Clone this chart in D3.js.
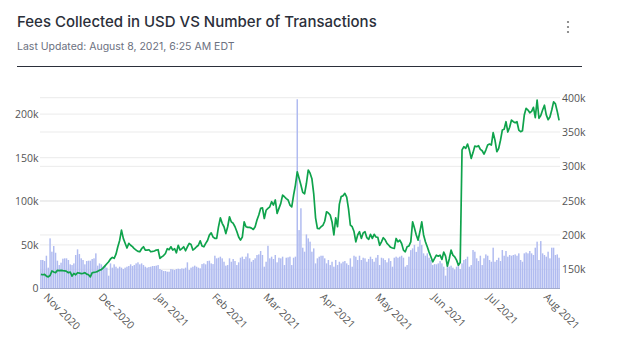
<!DOCTYPE html>
<html><head><meta charset="utf-8">
<script src="https://cdn.jsdelivr.net/npm/d3@7"></script>
<style>
html,body{margin:0;padding:0;background:#fff;}
svg{display:block;}
</style></head><body>
<svg id="chart" width="644" height="357"></svg>
<script>
// ---- data ----
const firstDay = "2020-10-29";
const lastDay = "2021-08-08";
// Fees collected in USD (thousands), one per day — bars, left axis
const feesK = [
32.7,32.7,31.5,37.6,23.9,57.5,42.2,48.7,41,31.9,
26.9,29.6,34.2,34.6,34.6,32.7,27.7,26.9,28.8,38.4,
44.9,39.5,34.6,32.7,27.7,31.5,31.9,31.9,33.8,34.6,
40.3,26.2,28.8,27.7,25,26.9,23.9,14.7,28.8,23.9,
27.7,25,23.1,25,23.9,22.3,23.9,25,25.8,27.7,
25.8,26.9,28.8,30,27.7,28.8,26.9,25,23.9,24.6,
25,25.8,25.8,26.2,26.9,22.3,21.2,20,20,19.3,
19.3,22.3,21.9,21.2,22.3,22.7,22.3,23.1,22.7,23.9,
30,21.2,23.9,25,26.2,25,23.9,23.1,28,28.8,
27.7,31.5,31.9,28.8,28,37.6,34.6,35.3,36.5,34.6,
30.7,26.2,26.9,34.6,30.7,33.8,31.5,26.9,30,35.3,
36.5,33.8,36.5,40.3,34.6,30.7,32.7,34.6,38.4,39.1,
43,38.4,25,30.7,49,34.6,36.5,33.8,38.4,30,
35.3,34.6,36.5,26.9,35.3,35.7,36.5,26.9,35.3,36.5,
217,67,92,46.8,42.2,62,57.5,53.7,42.2,46,
28.8,34.6,36.5,37.6,37.6,34.6,28.8,32.7,26.9,30.7,
25,32.7,26.9,30.7,28.8,30.7,31.5,28.8,26.9,34.6,
25,37.6,36.5,32.7,37.6,32.7,35.3,34.6,30.7,33.8,
36.5,33.8,30.7,35.3,38.4,26.9,35.3,34.6,32.7,30,
34.6,31.5,25,35.3,36.5,35.3,36.5,37.6,35.3,25,
26.9,36.5,44,46,50,42,48,56,50,40.3,
37.6,40.3,35.3,32.7,26.9,28,27.7,28.8,31.5,28.8,
25,14.7,26.9,25,26.2,23.9,21.9,25,26.9,22.3,
28.8,32.7,33.8,36.5,25,26.9,44.1,42.2,34.6,31.5,
37.6,26.9,34.6,39.1,37.6,32.7,30.7,46.8,30.7,32.7,
35.3,31.5,44.1,37.6,43,36.5,38.4,37.6,38.4,39.1,
37.6,40.3,32.7,30.7,40.3,41.4,40.3,43,40.3,38.4,
46.8,53.7,32.7,54.4,40.3,38.4,36.5,42.2,34.6,46.8,
46.8,38.4,39.1,35.3
];
// Number of transactions (thousands), one per day — line, right axis
const txK = [
142.5,142,142.5,140,139,141,147.5,146,145,148.5,
148,148.5,148,147.8,147,145,146,140,144,142,
145,144.5,143.6,144,145,143,142,139,145,145.5,
146,147,148.5,149.5,152,155,158,161,165,167.3,
166,172,182.8,192,207,195,188,181,187.7,185,
183,180,178,176,175.5,180,182.8,178,178,178.5,
175.5,176,176.7,178,178.5,166,168,170,173,180,
178.5,182.8,178,180,174,185,178,180,182.8,177,
182.8,187.7,186,178,180,182.8,185,191.5,184,182.8,
187.7,192,199.8,203,197,195,195,212,225,217,
212,202,212,226.5,219,217,212,205,197,192.5,
197,219,212,211,211,210,208,212,221.7,229,
238.7,239.5,224,236,238.7,241,248.4,243.6,251,231.5,
238.7,246,258,255.7,253,251,243.6,241,258,272.7,
292,282.5,272.7,262,260,275,294.6,290,282,260,
225,209.6,209,212,214,220,233.8,232,229,219,
200,225,212,245,256,257,260.6,255,238,214.4,
212,205,190,200,204.7,195,203,204.7,196,193.5,
201,195,201,197,196.4,185,190,196,193,187.7,
185,182,181,180.3,194.9,190,192.5,187.6,177.9,175.5,
182.8,184,190,219.2,210,200,192.5,205,219.2,200,
190,182.8,175,168.2,160.9,165.8,170.6,169,170.6,164.3,
175,169.2,154.6,165,177.9,170.6,168.2,163.3,156,160,
324,328.6,326.2,332.5,323.7,311.6,320,329.6,328.6,330,
324.7,322.7,317.9,323.7,331,332.5,331,349,338,321.3,
326,338,352.9,354,365,350,357,367.5,365,363.6,
365,352.9,350.5,351.9,374.7,384.5,382,378,380,386,
371,396.6,370,374,382,389,375,368,372,382,
394,391,380,367
];
const leftTicks = [0, 50, 100, 150, 200];
const rightTicks = [150, 200, 250, 300, 350, 400];
const monthTicks = ["2020-11-01","2020-12-01","2021-01-01","2021-02-01","2021-03-01","2021-04-01","2021-05-01","2021-06-01","2021-07-01","2021-08-01"];
const titleText = "Fees Collected in USD VS Number of Transactions";
const subtitleText = "Last Updated: August 8, 2021, 6:25 AM EDT";

// ---- chart ----
const parse = d3.timeParse("%Y-%m-%d");
const d0 = parse(firstDay), d1 = parse(lastDay);
const dates = d3.timeDay.range(d0, d3.timeDay.offset(d1, 1));
const svg = d3.select("#chart");
const plotL = 40, plotR = 560, plotT = 97.7, plotB = 288.5;

const x = d3.scaleTime()
  .domain([d3.timeHour.offset(d0, -12), d3.timeHour.offset(d1, 12)])
  .range([plotL, plotR]);
const yL = d3.scaleLinear().domain([0, 218.8]).range([plotB, plotT]);
const yR = d3.scaleLinear().domain([122, 400]).range([plotB, plotT]);

// header
svg.append("text").attr("x", 17).attr("y", 27)
  .attr("font-family", "Inter, 'Open Sans', sans-serif").attr("font-size", 15).attr("font-weight", 500)
  .attr("fill", "#2b2f3a").text(titleText);
svg.append("text").attr("x", 17).attr("y", 50)
  .attr("font-family", "Inter, 'Open Sans', sans-serif").attr("font-size", 10.5)
  .attr("fill", "#6b7080").text(subtitleText);
svg.append("line").attr("x1", 17).attr("x2", 582).attr("y1", 66.5).attr("y2", 66.5)
  .attr("stroke", "#2b2f3a").attr("stroke-width", 1);
svg.selectAll("circle.dot").data([22, 27, 32]).join("circle")
  .attr("class", "dot").attr("cx", 568).attr("cy", d => d).attr("r", 1.1).attr("fill", "#777");

// gridlines
const grid = svg.append("g");
grid.selectAll("line.gl").data(leftTicks.filter(d => d > 0)).join("line")
  .attr("x1", plotL).attr("x2", plotR).attr("y1", d => yL(d)).attr("y2", d => yL(d))
  .attr("stroke", "#ebebeb").attr("stroke-width", 1);
grid.selectAll("line.gr").data(rightTicks).join("line")
  .attr("x1", plotL).attr("x2", plotR).attr("y1", d => yR(d)).attr("y2", d => yR(d))
  .attr("stroke", "#ebebeb").attr("stroke-width", 1);

// bars
const dayW = x(dates[1]) - x(dates[0]);
const bw = dayW * 0.8;
svg.append("g").selectAll("rect").data(feesK).join("rect")
  .attr("x", (d, i) => x(dates[i]) - bw / 2)
  .attr("width", bw)
  .attr("y", d => yL(d))
  .attr("height", d => plotB - yL(d))
  .attr("fill", "#b0bbf0");

// zero line
svg.append("line").attr("x1", plotL).attr("x2", plotR).attr("y1", plotB).attr("y2", plotB)
  .attr("stroke", "#a3abcb").attr("stroke-width", 1);

// line
const line = d3.line().x((d, i) => x(dates[i])).y(d => yR(d));
svg.append("path").datum(txK).attr("d", line)
  .attr("fill", "none").attr("stroke", "#0fa34c").attr("stroke-width", 1.7)
  .attr("stroke-linejoin", "round");

// axes
const axFont = "'Open Sans', sans-serif";
const gl = svg.append("g").attr("transform", `translate(${plotL},0)`)
  .call(d3.axisLeft(yL).tickValues(leftTicks).tickFormat(d => d === 0 ? "0" : d + "k").tickSize(0).tickPadding(1.5));
const gr = svg.append("g").attr("transform", `translate(${plotR},0)`)
  .call(d3.axisRight(yR).tickValues(rightTicks).tickFormat(d => d + "k").tickSize(0).tickPadding(2));
[gl, gr].forEach(g => {
  g.select(".domain").remove();
  g.selectAll("text").attr("font-family", axFont).attr("font-size", 10.5).attr("fill", "#555");
});

const fmt = d3.timeFormat("%b %Y");
svg.append("g").selectAll("text").data(monthTicks.map(parse)).join("text")
  .attr("transform", d => `translate(${x(d) + 2},292.5) rotate(45)`)
  .attr("dy", "0.72em")
  .attr("font-family", axFont).attr("font-size", 10.5).attr("fill", "#555")
  .text(d => fmt(d));
</script>
</body></html>
